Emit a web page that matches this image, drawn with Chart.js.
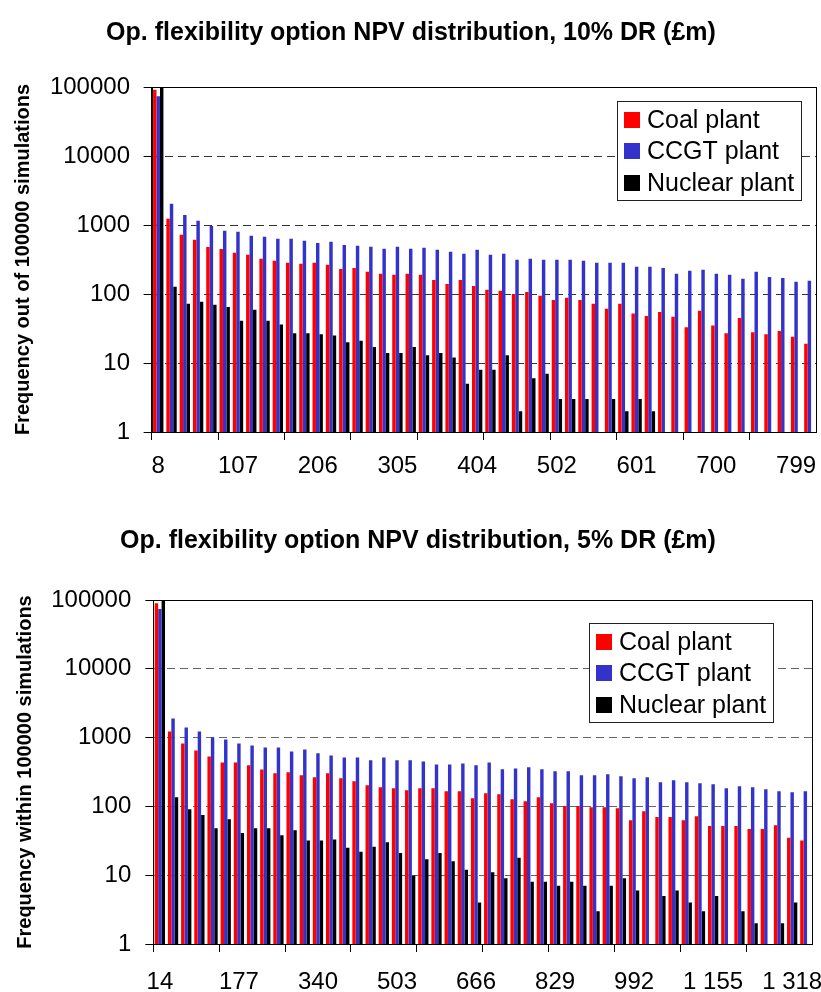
<!DOCTYPE html>
<html>
<head>
<meta charset="utf-8">
<script src="https://cdn.jsdelivr.net/npm/chart.js@4.4.1/dist/chart.umd.min.js"></script>
<style>
  html, body { margin: 0; padding: 0; background: #fff; }
  body { width: 821px; height: 992px; position: relative; overflow: hidden; }
  .box { position: absolute; left: 0; width: 821px; }
  #top { top: 0; height: 480px; }
  #bottom { top: 500px; height: 492px; }
</style>
</head>
<body>
<div class="box" id="top"><canvas id="chart10"></canvas></div>
<div class="box" id="bottom"><canvas id="chart5"></canvas></div>
<script>
// series names / colours
const seriesNames = ["Coal plant", "CCGT plant", "Nuclear plant"];
const seriesColors = ["#ff0000", "#3333cc", "#000000"];
const yTicks = [1, 10, 100, 1000, 10000, 100000];

// 10% DR: NPV bins (£m) and frequencies
const bins10 = ["8", "24", "41", "57", "74", "90", "107", "123", "140", "156",
  "173", "189", "206", "222", "239", "255", "272", "288", "305", "321",
  "338", "354", "371", "387", "404", "420", "436", "453", "469", "486",
  "502", "519", "535", "552", "568", "585", "601", "618", "634", "651",
  "667", "684", "700", "717", "733", "750", "766", "783", "799", "815"];
const coal10 = [91000, 1230, 720, 610, 480, 450, 395, 370, 323, 303,
  283, 274, 283, 265, 231, 239, 210, 196, 190, 196,
  190, 160, 140, 160, 131, 115, 111, 100, 107, 94,
  82, 88, 82, 72, 61, 72, 52, 48, 55, 47,
  33, 57, 35, 27, 45, 28, 26, 29, 24, 19];
const ccgt10 = [73500, 2030, 1400, 1150, 970, 825, 800, 700, 675, 630,
  630, 590, 550, 570, 515, 500, 483, 452, 483, 452,
  467, 437, 409, 382, 437, 370, 382, 313, 323, 313,
  313, 313, 303, 283, 283, 283, 248, 248, 239, 196,
  217, 224, 196, 190, 166, 210, 177, 171, 150, 155];
const nuclear10 = [99000, 127, 72, 77, 70, 65, 41, 59, 41, 36,
  27, 27, 26, 25, 20, 21, 17, 14, 14, 17,
  13, 14, 12, 5, 8, 8, 13, 2, 6, 7,
  3, 3, 3, null, 3, 2, 3, 2, null, null,
  null, null, null, null, null, null, null, null, null, null];

// 5% DR
const bins5 = ["14", "41", "68", "96", "123", "150", "177", "204", "231", "258",
  "286", "313", "340", "367", "394", "421", "449", "476", "503", "530",
  "557", "584", "612", "639", "666", "693", "720", "747", "775", "802",
  "829", "856", "883", "910", "938", "965", "992", "1 019", "1 046", "1 073",
  "1 101", "1 128", "1 155", "1 182", "1 209", "1 236", "1 264", "1 291", "1 318", "1 345"];
const coal5 = [89500, 1230, 820, 650, 530, 435, 435, 395, 345, 303,
  313, 283, 265, 303, 256, 232, 203, 190, 183, 172,
  183, 183, 166, 166, 131, 155, 150, 127, 119, 136,
  111, 101, 101, 97, 97, 94, 63, 85, 70, 70,
  63, 72, 52, 52, 52, 47, 47, 53, 35, 32];
const ccgt5 = [74000, 1890, 1400, 1230, 1005, 940, 820, 770, 720, 720,
  630, 673, 590, 550, 515, 515, 467, 515, 467, 467,
  451, 408, 408, 422, 395, 436, 346, 357, 370, 346,
  323, 323, 283, 283, 293, 274, 256, 265, 224, 240,
  224, 217, 210, 183, 196, 190, 177, 166, 161, 166];
const nuclear5 = [98000, 136, 91, 75, 48, 65, 41, 48, 48, 38,
  45, 32, 32, 33, 25, 22, 26, 30, 21, 10,
  17, 21, 16, 12, 4, 11, 9, 18, 8, 8,
  7, 8, 7, 3, 7, 9, 6, null, 5, 6,
  4, 3, 5, null, 3, 2, null, 2, 4, null];

const FONT = "'Liberation Sans', Arial, sans-serif";
Chart.defaults.font.family = FONT;
Chart.defaults.color = "#000";

// solid frame round the plot area
const plotFrame = {
  id: "plotFrame",
  afterDatasetsDraw(chart) {
    const { ctx, chartArea: a } = chart;
    ctx.save();
    ctx.strokeStyle = "#000";
    ctx.lineWidth = 1;
    ctx.strokeRect(Math.round(a.left) + 0.5, Math.round(a.top) + 0.5,
      Math.round(a.right - a.left), Math.round(a.bottom - a.top));
    ctx.restore();
  },
};

// boxed legend inside the plot, top right
const boxLegend = {
  id: "boxLegend",
  afterDraw(chart, args, opts) {
    const { ctx, chartArea } = chart;
    const items = chart.data.datasets.map((d) => ({ text: d.label, color: d.backgroundColor }));
    ctx.save();
    ctx.font = "25px " + FONT;
    const textW = Math.max(...items.map((i) => ctx.measureText(i.text).width));
    const w = Math.round(7 + 16 + 7 + textW + 7);
    const h = Math.round(4 + 31.5 * items.length);
    const x = Math.round(chartArea.right - opts.right - w);
    const y = Math.round(chartArea.top + opts.top);
    ctx.fillStyle = "#fff";
    ctx.fillRect(x, y, w, h);
    ctx.strokeStyle = "#222";
    ctx.lineWidth = 1;
    ctx.strokeRect(x + 0.5, y + 0.5, w, h);
    ctx.textBaseline = "middle";
    items.forEach((it, i) => {
      const cy = y + 2 + 31.5 * (i + 0.5) + 1;
      ctx.fillStyle = it.color;
      ctx.fillRect(x + 7, Math.round(cy - 8), 16, 16);
      ctx.fillStyle = "#000";
      ctx.fillText(it.text, x + 30, cy + 1);
    });
    ctx.restore();
  },
};

function buildChart(canvasId, c) {
  return new Chart(document.getElementById(canvasId), {
    type: "bar",
    data: {
      labels: c.bins,
      datasets: [
        { label: seriesNames[0], data: c.coal, backgroundColor: seriesColors[0] },
        { label: seriesNames[1], data: c.ccgt, backgroundColor: seriesColors[1] },
        { label: seriesNames[2], data: c.nuclear, backgroundColor: seriesColors[2] },
      ],
    },
    plugins: [plotFrame, boxLegend],
    options: {
      responsive: true,
      maintainAspectRatio: false,
      animation: false,
      devicePixelRatio: 1,
      layout: { padding: { left: c.padLeft, right: c.padRight, top: 0, bottom: 0 } },
      datasets: { bar: { categoryPercentage: 0.78, barPercentage: 1.0, borderWidth: 0 } },
      plugins: {
        legend: { display: false },
        tooltip: { enabled: false },
        title: {
          display: true,
          text: c.title,
          font: { size: 25, weight: "bold" },
          padding: { top: c.titleTop, bottom: c.titleBottom },
        },
        boxLegend: { right: c.legendRight, top: c.legendTop },
      },
      scales: {
        x: {
          offset: true,
          afterFit: (s) => { s.height = 48; },
          grid: {
            offset: true,
            drawOnChartArea: false,
            tickLength: 8,
            tickColor: (ctx) => (ctx.index % 5 === 0 ? "#000" : "rgba(0,0,0,0)"),
          },
          border: { color: "#000", width: 1 },
          ticks: {
            autoSkip: false,
            maxRotation: 0,
            minRotation: 0,
            padding: c.xPad,
            font: { size: 24 },
            callback: (v, i) => (i % 6 === 0 ? c.bins[i] : ""),
          },
        },
        y: {
          type: "logarithmic",
          min: 1,
          max: 100000,
          afterFit: (s) => { s.width = c.yWidth; },
          afterBuildTicks: (s) => { s.ticks = yTicks.map((v) => ({ value: v })); },
          grid: {
            color: c.gridColor,
            tickColor: "#000",
            tickLength: 8,
            tickBorderDash: [],
          },
          border: { color: "#000", width: 1, dash: [8, 5] },
          ticks: {
            padding: c.yPad,
            font: { size: 24 },
            callback: (v) => String(v),
          },
          title: {
            display: true,
            text: c.yTitle,
            font: { size: 20, weight: "bold" },
            padding: { top: c.yTitlePad, bottom: 0 },
          },
        },
      },
    },
  });
}

buildChart("chart10", {
  bins: bins10, coal: coal10, ccgt: ccgt10, nuclear: nuclear10,
  title: "Op. flexibility option NPV distribution, 10% DR (£m)",
  yTitle: "Frequency out of 100000 simulations",
  padLeft: 4.4, padRight: 3.4, yWidth: 147.2,
  titleTop: 18, titleBottom: 39,
  xPad: 11.6, yPad: 13.6, yTitlePad: 6.6,
  gridColor: "#333", legendRight: 14.6, legendTop: 14,
});

buildChart("chart5", {
  bins: bins5, coal: coal5, ccgt: ccgt5, nuclear: nuclear5,
  title: "Op. flexibility option NPV distribution, 5% DR (£m)",
  yTitle: "Frequency within 100000 simulations",
  padLeft: 21, padRight: 6, yWidth: 132.3,
  titleTop: 26, titleBottom: 44,
  xPad: 15.6, yPad: 14, yTitlePad: -8,
  gridColor: "#666", legendRight: 39, legendTop: 23,
});
</script>
</body>
</html>
